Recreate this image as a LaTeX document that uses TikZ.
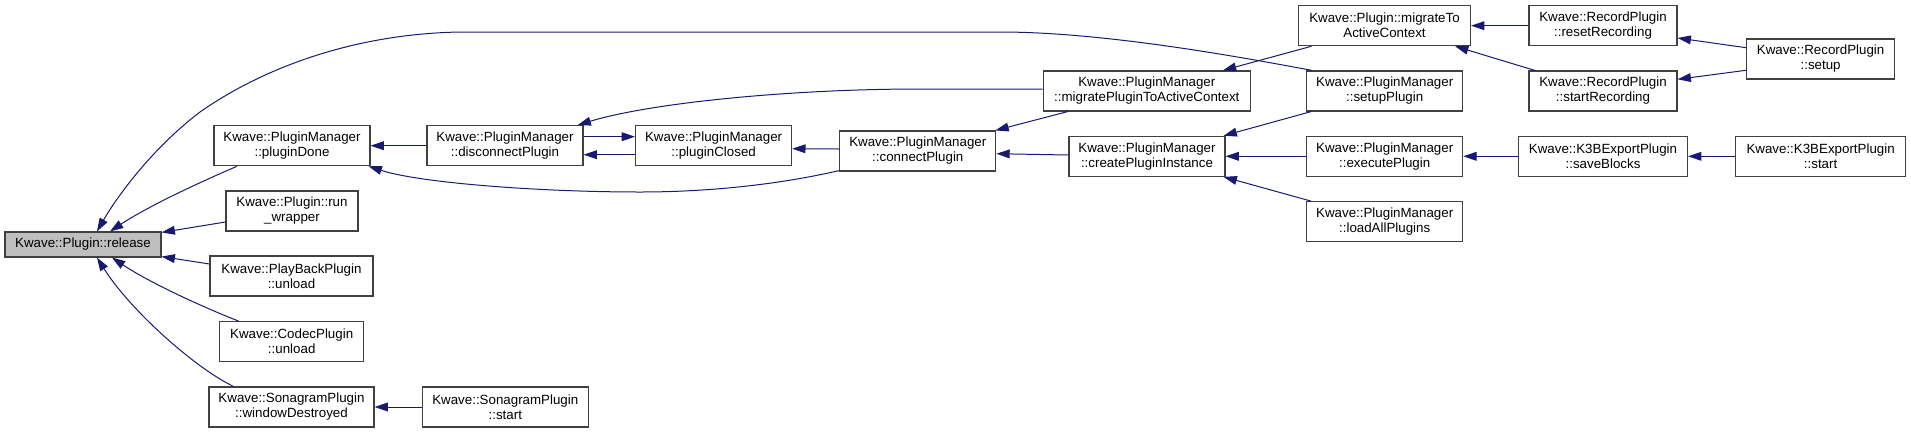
\documentclass[tikz,border=0pt]{standalone}
\usepackage{fontspec}
\setmainfont{Liberation Sans}
\usetikzlibrary{arrows.meta,calc}
\definecolor{edgecol}{HTML}{191970}
\definecolor{rootfill}{HTML}{BFBFBF}
\definecolor{boxline}{HTML}{404040}
\tikzset{
  box/.style={draw=boxline, line width=0.85pt, fill=white, inner sep=0pt, align=center,
    font=\fontsize{10pt}{11.25pt}\selectfont},
  rootbox/.style={box, fill=rootfill},
  bw/.style={minimum width=#1*0.75pt},
  bh/.style={minimum height=#1*0.75pt},
  edge/.style={draw=edgecol, line width=0.75pt, <-},
}
\begin{document}
\begin{tikzpicture}[x=0.75pt, y=-0.75pt, >={Triangle[length=10pt,width=6.6pt]}]
\useasboundingbox (0,0) rectangle (1911,433);
% nodes
\node[rootbox, bw=156, bh=25] (release) at (83,244.5) {Kwave::Plugin::release};
\node[box, bw=156, bh=40] (pd) at (292,145.7) {Kwave::PluginManager\\::pluginDone};
\node[box, bw=132, bh=40] (rw) at (292,211) {Kwave::Plugin::run\\\_wrapper};
\node[box, bw=163, bh=40] (pbu) at (291.5,276) {Kwave::PlayBackPlugin\\::unload};
\node[box, bw=144, bh=40] (cu) at (291.7,341.7) {Kwave::CodecPlugin\\::unload};
\node[box, bw=165, bh=40] (wd) at (291.5,407) {Kwave::SonagramPlugin\\::windowDestroyed};
\node[box, bw=166, bh=40] (ss) at (505.3,407) {Kwave::SonagramPlugin\\::start};
\node[box, bw=156, bh=40] (dis) at (505,145.7) {Kwave::PluginManager\\::disconnectPlugin};
\node[box, bw=156, bh=40] (pc) at (713.6,145.7) {Kwave::PluginManager\\::pluginClosed};
\node[box, bw=156, bh=40] (cp) at (917.8,151) {Kwave::PluginManager\\::connectPlugin};
\node[box, bw=207, bh=40] (mp) at (1146.8,91) {Kwave::PluginManager\\::migratePluginToActiveContext};
\node[box, bw=156, bh=40] (cpi) at (1147,156.3) {Kwave::PluginManager\\::createPluginInstance};
\node[box, bw=172, bh=40] (pmig) at (1384.5,25.7) {Kwave::Plugin::migrateTo\\ActiveContext};
\node[box, bw=156, bh=40] (sp) at (1384.7,91) {Kwave::PluginManager\\::setupPlugin};
\node[box, bw=156, bh=40] (ep) at (1384.7,156.3) {Kwave::PluginManager\\::executePlugin};
\node[box, bw=156, bh=40] (lap) at (1384.7,221.7) {Kwave::PluginManager\\::loadAllPlugins};
\node[box, bw=148, bh=40] (rr) at (1603,25.7) {Kwave::RecordPlugin\\::resetRecording};
\node[box, bw=148, bh=40] (sr) at (1603,91) {Kwave::RecordPlugin\\::startRecording};
\node[box, bw=148, bh=40] (rs) at (1820.6,59) {Kwave::RecordPlugin\\::setup};
\node[box, bw=169, bh=40] (sb) at (1603,156.3) {Kwave::K3BExportPlugin\\::saveBlocks};
\node[box, bw=170, bh=40] (ks) at (1820.6,156.3) {Kwave::K3BExportPlugin\\::start};
% edges (arrow at callee)
\draw[edge] ($(release.north)+(14,0)$) .. controls (115,200) and (150,150) .. (200,112)
  .. controls (260,70) and (350,34) .. (460,32) -- (1000,32)
  .. controls (1100,32) and (1230,55) .. ($(sp.north west)+(6,0)$);
\draw[edge] ($(release.north)+(27,0)$) .. controls (150,205) and (205,180) .. ($(pd.south)+(-55,0)$);
\draw[edge] ($(release.north east)+(0,1)$) -- ($(rw.west)+(0,11)$);
\draw[edge] ($(release.south east)+(0,-1)$) -- ($(pbu.west)+(0,-12)$);
\draw[edge] ($(release.south)+(29,0)$) .. controls (150,283) and (205,308) .. ($(cu.north)+(-53,0)$);
\draw[edge] ($(release.south)+(14,0)$) .. controls (130,310) and (195,368) .. ($(wd.north)+(-58,0)$);
\draw[edge] (wd.east) -- (ss.west);
\draw[edge] (pd.east) -- (dis.west);
\draw[edge] ($(pc.west)+(0,-9)$) -- ($(dis.east)+(0,-9)$);
\draw[edge] ($(dis.east)+(0,9)$) -- ($(pc.west)+(0,9)$);
\draw[edge] ($(pc.east)+(0,3)$) -- ($(cp.west)+(0,-2)$);
\draw[edge] ($(pd.south east)+(-2,0)$) .. controls (420,183) and (540,192) .. (640,192)
  .. controls (720,192) and (790,182) .. ($(cp.south west)+(0,-1)$);
\draw[edge] ($(dis.north east)+(-6,0)$) .. controls (650,103) and (790,89) .. (920,89)
  -- ($(mp.west)+(0,-2)$);
\draw[edge] ($(cp.north east)+(-1,0)$) -- ($(mp.south west)+(25,0)$);
\draw[edge] ($(cp.east)+(0,2.7)$) -- ($(cpi.west)+(0,-1.3)$);
\draw[edge] ($(mp.north east)+(-28,0)$) -- ($(pmig.south west)+(13.5,0)$);
\draw[edge] ($(cpi.north east)+(-2,0)$) -- ($(sp.south west)+(5,0)$);
\draw[edge] (cpi.east) -- (ep.west);
\draw[edge] ($(cpi.south east)+(-2,0)$) -- ($(lap.north west)+(5,0)$);
\draw[edge] (pmig.east) -- (rr.west);
\draw[edge] ($(pmig.south east)+(-16,0)$) -- ($(sr.north west)+(6.5,0)$);
\draw[edge] ($(rr.east)+(0,12.3)$) -- ($(rs.west)+(0,-11.3)$);
\draw[edge] ($(sr.east)+(0,-11.7)$) -- ($(rs.west)+(0,11.3)$);
\draw[edge] (ep.east) -- (sb.west);
\draw[edge] (sb.east) -- (ks.west);
\end{tikzpicture}
\end{document}
